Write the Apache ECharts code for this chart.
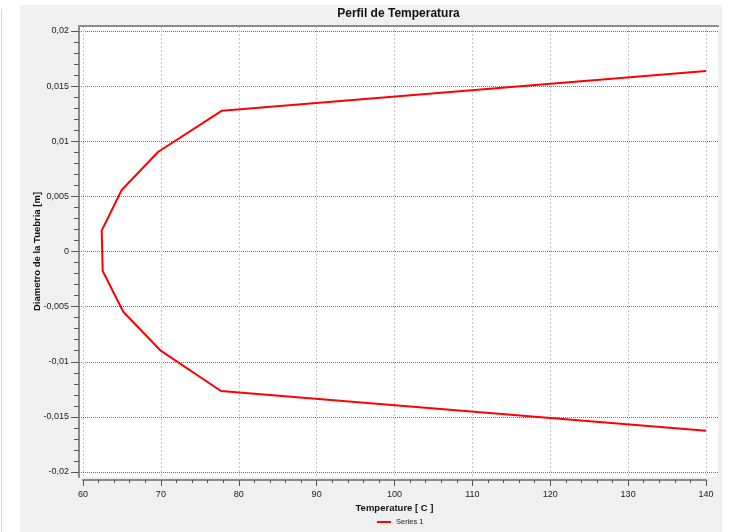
<!DOCTYPE html>
<html>
<head>
<meta charset="utf-8">
<script src="https://cdn.jsdelivr.net/npm/echarts@6/dist/echarts.min.js"></script>
<style>
  html, body { margin: 0; padding: 0; background: #ffffff; }
  #chart { width: 730px; height: 532px; }
</style>
</head>
<body>
<div id="chart"></div>
<script>
// Temperature profile across the pipe diameter
const temperature = [140, 77.85, 69.67, 64.97, 62.40, 62.53, 65.17, 70.02, 77.72, 140];
const diameter = [0.01637, 0.01277, 0.00905, 0.00558, 0.00189, -0.00177, -0.00546, -0.00902, -0.01265, -0.01626];
const xTicks = [60, 70, 80, 90, 100, 110, 120, 130, 140];
const yTicks = [-0.02, -0.015, -0.01, -0.005, 0, 0.005, 0.01, 0.015, 0.02];
const seriesName = 'Series 1';
const titleText = 'Perfil de Temperatura';
const xName = 'Temperature [ C ]';
const yName = 'Diametro de la Tuebria [m]';

// Layout: the white plot frame and the inner area spanned by the tick range
const frame = { left: 79, top: 26, right: 718, bottom: 477 };
const inner = { left: 83, top: 31, right: 706, bottom: 472 };
const FONT = 'Liberation Sans';

const xMin = xTicks[0], xMax = xTicks[xTicks.length - 1];
const yMin = yTicks[0], yMax = yTicks[yTicks.length - 1];
const pxPerX = (inner.right - inner.left) / (xMax - xMin);
const pxPerY = (inner.bottom - inner.top) / (yMax - yMin);
const frameXMin = xMin - (inner.left - frame.left) / pxPerX;
const frameXMax = xMax + (frame.right - inner.right) / pxPerX;
const frameYMax = yMax + (inner.top - frame.top) / pxPerY;
const frameYMin = yMin - (frame.bottom - inner.bottom) / pxPerY;

const points = temperature.map((t, i) => [t, diameter[i]]);

const chart = echarts.init(document.getElementById('chart'), null, { renderer: 'canvas' });

chart.setOption({
  animation: false,
  backgroundColor: '#ffffff',
  textStyle: { fontFamily: FONT },
  graphic: [
    { type: 'rect', z: -10, shape: { x: 20, y: 5, width: 702, height: 527 }, style: { fill: '#f0f0f0' } },
    { type: 'rect', z: -10, shape: { x: 1, y: 9, width: 1, height: 523 }, style: { fill: '#d6d6d6' } }
  ],
  title: {
    text: titleText,
    left: (frame.left + frame.right) / 2,
    top: 8,
    textAlign: 'center',
    padding: 0,
    textStyle: { fontSize: 12, fontWeight: 'bold', color: '#111111', fontFamily: FONT }
  },
  legend: {
    data: [seriesName],
    left: 377,
    top: 518,
    padding: 0,
    icon: 'rect',
    itemWidth: 14,
    itemHeight: 2,
    textStyle: { fontSize: 7.5, color: '#222222', fontFamily: FONT }
  },
  grid: [
    {
      left: frame.left, top: frame.top,
      width: frame.right - frame.left, height: frame.bottom - frame.top,
      show: true, backgroundColor: '#ffffff', borderWidth: 0
    },
    {
      left: inner.left, top: inner.top,
      width: inner.right - inner.left, height: inner.bottom - inner.top,
      show: false
    }
  ],
  xAxis: [
    {
      // frame top edge and vertical grid lines
      gridIndex: 0, type: 'value', position: 'top',
      min: frameXMin, max: frameXMax,
      axisLine: { show: true, onZero: false, lineStyle: { color: '#8c8c8c', width: 2 } },
      axisTick: { show: false, customValues: xTicks },
      axisLabel: { show: false, customValues: xTicks },
      splitLine: { show: true, customValues: xTicks, lineStyle: { color: '#c2c2c2', width: 1, type: [2, 2] } }
    },
    {
      gridIndex: 1, type: 'value', position: 'bottom', offset: 8,
      min: xMin, max: xMax, interval: 10,
      axisLine: { show: true, onZero: false, lineStyle: { color: '#8c8c8c', width: 2 } },
      axisTick: { show: true, length: 6, lineStyle: { color: '#555555' } },
      minorTick: { show: true, splitNumber: 5, length: 3, lineStyle: { color: '#555555' } },
      axisLabel: { margin: 10, fontSize: 9, color: '#222222', fontFamily: FONT },
      splitLine: { show: false },
      name: xName, nameLocation: 'middle', nameGap: 23, nameMoveOverlap: false,
      nameTextStyle: { fontSize: 9.5, fontWeight: 'bold', color: '#111111', fontFamily: FONT }
    }
  ],
  yAxis: [
    {
      // frame left edge and horizontal grid lines
      gridIndex: 0, type: 'value', position: 'left',
      min: frameYMin, max: frameYMax,
      axisLine: { show: true, onZero: false, lineStyle: { color: '#8c8c8c', width: 2 } },
      axisTick: { show: false, customValues: yTicks },
      axisLabel: { show: false, customValues: yTicks },
      splitLine: { show: true, customValues: yTicks, lineStyle: { color: '#707070', width: 1, type: [1, 1] } }
    },
    {
      gridIndex: 1, type: 'value', position: 'left', offset: inner.left - frame.left,
      min: yMin, max: yMax, interval: 0.005,
      axisLine: { show: false, onZero: false },
      axisTick: { show: true, length: 8, lineStyle: { color: '#555555' } },
      minorTick: { show: true, splitNumber: 5, length: 5, lineStyle: { color: '#555555' } },
      axisLabel: {
        margin: 10, fontSize: 9, color: '#222222', fontFamily: FONT,
        formatter: v => String(+v.toFixed(4)).replace('.', ',')
      },
      splitLine: { show: false },
      name: yName, nameLocation: 'middle', nameGap: 37, nameMoveOverlap: false,
      nameTextStyle: { fontSize: 9.5, fontWeight: 'bold', color: '#111111', fontFamily: FONT }
    }
  ],
  series: [
    {
      name: seriesName,
      type: 'line',
      xAxisIndex: 1,
      yAxisIndex: 1,
      data: points,
      symbol: 'none',
      clip: false,
      z: 5,
      color: '#ff0000',
      lineStyle: { color: '#ff0000', width: 2 },
      itemStyle: { color: '#ff0000' }
    }
  ]
});
</script>
</body>
</html>
